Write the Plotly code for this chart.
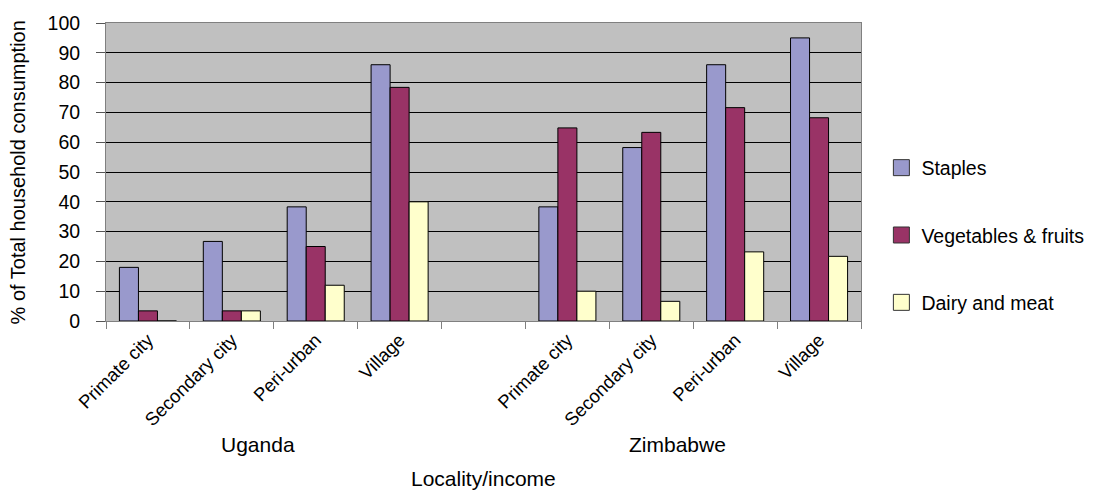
import plotly.graph_objects as go

# ---- data ----
localities = ["Primate city", "Secondary city", "Peri-urban", "Village", "",
              "Primate city", "Secondary city", "Peri-urban", "Village"]
slot_positions = [0, 1, 2, 3, 4, 5, 6, 7, 8]
staples = [18, 26.7, 38.3, 86, None, 38.3, 58.2, 86, 95]
vegetables_fruits = [3.4, 3.4, 25, 78.4, None, 64.8, 63.3, 71.6, 68.2]
dairy_meat = [0, 3.4, 12, 40, None, 10, 6.6, 23.2, 21.7]
series_names = ["Staples", "Vegetables & fruits", "Dairy and meat"]
series_colors = ["#9999CC", "#993366", "#FFFFCC"]
countries = ["Uganda", "Zimbabwe"]
country_centers = [1.5, 6.5]
y_ticks = [0, 10, 20, 30, 40, 50, 60, 70, 80, 90, 100]

FONT = "Liberation Sans, Arial, sans-serif"

fig = go.Figure()
for name, vals, col in zip(series_names, [staples, vegetables_fruits, dairy_meat], series_colors):
    fig.add_trace(go.Bar(
        x=slot_positions, y=vals, name=name, showlegend=False,
        marker=dict(color=col, line=dict(color="black", width=1)),
    ))
    # legend entry with a larger square swatch
    fig.add_trace(go.Scatter(
        x=[None], y=[None], mode="markers", name=name, legendgroup=name,
        marker=dict(symbol="square", size=16, color=col, line=dict(color="#333333", width=1)),
    ))

tick_pos = [p for p, l in zip(slot_positions, localities) if l]
tick_txt = [l for l in localities if l]

fig.update_layout(
    width=1104, height=493,
    margin=dict(l=106, r=243, t=18, b=172),
    paper_bgcolor="white", plot_bgcolor="#C0C0C0",
    font=dict(family=FONT, color="black", size=17),
    barmode="group", bargap=0.32, bargroupgap=0,
    legend=dict(x=1.027, xanchor="left", y=0.287, yanchor="middle",
                traceorder="grouped", tracegroupgap=39,
                font=dict(size=19.5), itemsizing="trace", bgcolor="rgba(0,0,0,0)"),
    xaxis=dict(
        range=[-0.5, 8.5], tickmode="array", tickvals=tick_pos, ticktext=tick_txt,
        tickangle=-45, ticks="", tickfont=dict(size=18.5),
        showline=True, linecolor="#808080", linewidth=1, mirror=True,
        showgrid=False, zeroline=False,
        minor=dict(tickmode="array", tickvals=[i - 0.5 for i in range(10)],
                   ticks="outside", ticklen=7, tickcolor="#808080", showgrid=False),
    ),
    yaxis=dict(
        range=[0, 100], tickmode="array", tickvals=y_ticks,
        ticks="outside", ticklen=9, tickcolor="#555555", tickfont=dict(size=19.5),
        ticklabelstandoff=12,
        showline=True, linecolor="#808080", linewidth=1, mirror=True,
        showgrid=True, gridcolor="black", gridwidth=1, zeroline=False,
    ),
)

for c, cx in zip(countries, country_centers):
    fig.add_annotation(x=cx, xref="x", y=-0.416, yref="paper", text=c,
                       showarrow=False, xshift=-16, font=dict(size=21),
                       xanchor="center", yanchor="middle")

fig.add_annotation(x=0.5, xref="paper", y=-0.528, yref="paper", text="Locality/income",
                   showarrow=False, font=dict(size=21), xanchor="center", yanchor="middle")
fig.add_annotation(x=-0.116, xref="paper", y=0.5, yref="paper",
                   text="% of Total household consumption", textangle=-90,
                   showarrow=False, font=dict(size=20), xanchor="center", yanchor="middle")

fig.write_html("out.html")
